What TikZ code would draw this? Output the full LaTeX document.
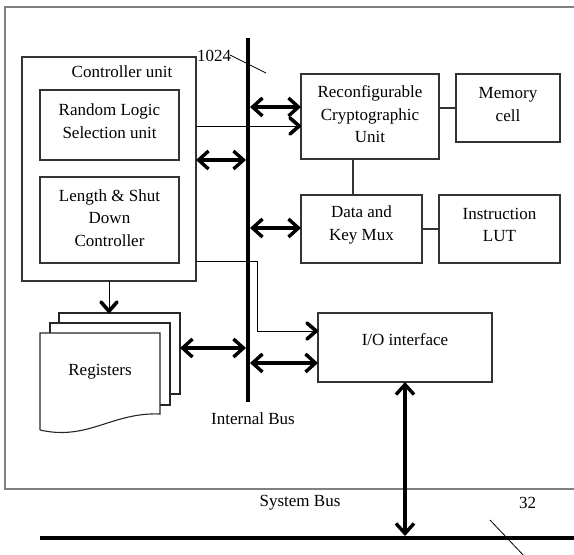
\documentclass[tikz,border=0pt]{standalone}
\usepackage{fontspec}
\setmainfont{Liberation Serif}
\usetikzlibrary{arrows.meta}
\begin{document}
\begin{tikzpicture}[x=1pt, y=-1pt,
  font=\fontsize{17}{22.5}\selectfont,
  box/.style={draw=black!80, line width=1.1pt, inner sep=0pt, outer sep=0pt},
  txt/.style={inner sep=0pt, align=center},
  link/.style={draw=black!80, line width=1.1pt},
  frame/.style={draw=black!50, line width=1.5pt},
  bus/.style={line width=4.2pt},
  barb/.tip={Straight Barb[length=10pt, width=18pt]},
  dbl/.style={line width=3.4pt, {barb}-{barb}},
  feed/.style={line width=1pt},
  chevron/.style={line width=3.6pt, line cap=round, line join=round},
  sheet/.style={draw=black!85, line width=1.1pt, line join=miter}
]
\useasboundingbox (0,0) rectangle (574,555);

% outer frame (open on the right)
\draw[frame] (580,7) -- (5,7) -- (5,489) -- (580,489);

% controller unit with its two sub-blocks
\node[box, minimum width=174pt, minimum height=224pt] (ctrl) at (109,169) {};
\node[txt] (ctrl-t) at (122,72) {Controller unit};
\node[box, minimum width=139pt, minimum height=70pt] (rls) at (109.5,125) {};
\node[txt] (rls-t) at (109.5,121) {Random Logic\\Selection unit};
\node[box, minimum width=139pt, minimum height=86pt] (lsd) at (109.5,220) {};
\node[txt] (lsd-t) at (109.5,218) {Length \& Shut\\Down\\Controller};

% crypto datapath
\node[box, minimum width=138pt, minimum height=85pt] (rcu) at (370,116.5) {};
\node[txt] (rcu-t) at (370,114.5) {Reconfigurable\\Cryptographic\\Unit};
\node[box, minimum width=104pt, minimum height=68pt] (mem) at (508,108) {};
\node[txt] (mem-t) at (508,104.5) {Memory\\cell};
\node[box, minimum width=121pt, minimum height=68pt] (mux) at (361.5,229) {};
\node[txt] (mux-t) at (361.5,225) {Data and\\Key Mux};
\node[box, minimum width=121pt, minimum height=68pt] (lut) at (499.5,229) {};
\node[txt] (lut-t) at (499.5,225) {Instruction\\LUT};
\node[box, minimum width=174pt, minimum height=69pt] (io) at (405,347.5) {};
\node[txt] (io-t) at (405,340) {I/O interface};

\draw[link] (rcu.east |- mem.west) -- (mem.west);
\draw[link] (rcu.south -| 353,0) -- (mux.north -| 353,0);
\draw[link] (mux.east) -- (lut.west);

% register file: three stacked sheets
\draw[sheet] (59,323) -- (59,313) -- (180,313) -- (180,394) -- (170,394);
\draw[sheet] (50,333) -- (50,323) -- (170,323) -- (170,405) -- (160,405);
\draw[sheet] (40,430) -- (40,333) -- (160,333) -- (160,414)
  .. controls (112,412) and (88,441) .. (40,430);
\node[txt] (reg-t) at (100,372) {Registers};
\coordinate (regtop) at (110,313);
\coordinate (regright) at (180,348);

% internal bus
\coordinate (ibtop) at (248,38);
\coordinate (ibbot) at (248,402);
\draw[bus] (ibtop) -- (ibbot);
\node[txt] (ib-t) at (253,419) {Internal Bus};
\node[txt] (w1024) at (214,56) {1024};
\coordinate (s1a) at (230,55);
\coordinate (s1b) at (266,73);
\draw[line width=0.8pt] (s1a) -- (s1b);

% system bus
\coordinate (sbl) at (40,538);
\coordinate (sbr) at (574,538);
\draw[bus] (sbl) -- (sbr);
\node[txt] (sb-t) at (300,503) {System Bus};
\node[txt] (w32) at (527.5,503) {32};
\coordinate (s2a) at (490,520);
\coordinate (s2b) at (525,557);
\draw[line width=0.8pt] (s2a) -- (s2b);

% bus transfers
\draw[dbl] (250,107) -- (rcu.west |- 0,107);
\draw[dbl] (ctrl.east |- 0,160) -- (246,160);
\draw[dbl] (250,228) -- (mux.west |- 0,228);
\draw[dbl] (regright) -- (246,348);
\draw[dbl] (250,363) -- (io.west |- 0,363);
\draw[dbl] (io.south) -- (io.south |- 0,536);

% control signals: thin wires ending in heavy chevrons
\coordinate (c1) at (rcu.west |- 0,126);
\draw[feed] (ctrl.east |- c1) -- (c1);
\draw[chevron] ([xshift=-11pt,yshift=8pt]c1) -- ([xshift=-1.8pt]c1) -- ([xshift=-11pt,yshift=-8pt]c1);
\coordinate (bend1) at (257,261);
\coordinate (bend2) at (257,331);
\coordinate (c2) at (io.west |- bend2);
\draw[feed] (ctrl.east |- bend1) -- (bend1) -- (bend2) -- (c2);
\draw[chevron] ([xshift=-11pt,yshift=8pt]c2) -- ([xshift=-1.8pt]c2) -- ([xshift=-11pt,yshift=-8pt]c2);
\coordinate (c3) at (ctrl.south |- regtop);
\draw[feed] (ctrl.south) -- (c3);
\draw[chevron] ([xshift=-8pt,yshift=11pt]c3) -- ([yshift=1.8pt]c3) -- ([xshift=8pt,yshift=11pt]c3);
\end{tikzpicture}
\end{document}
